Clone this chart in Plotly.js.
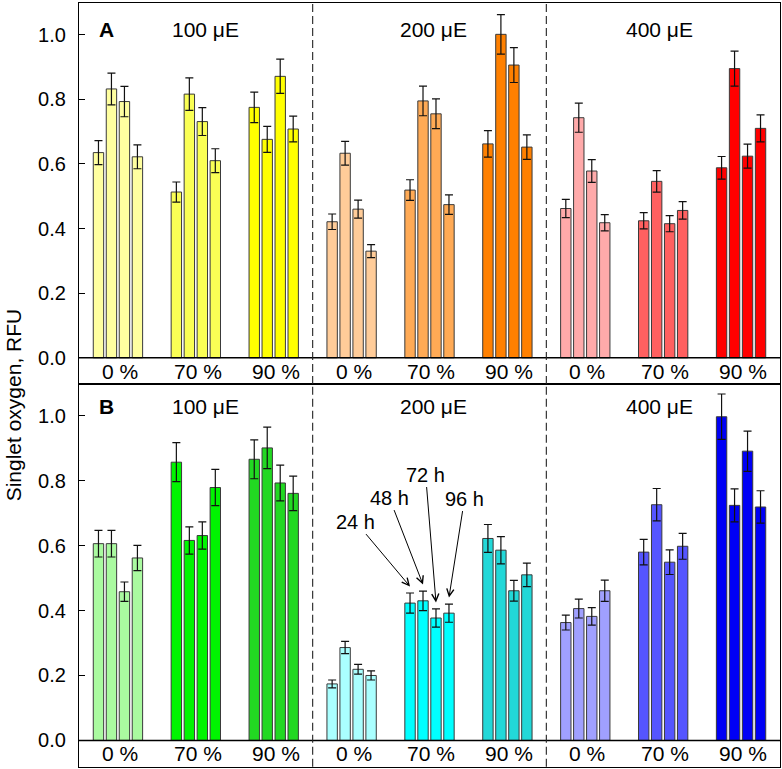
<!DOCTYPE html>
<html>
<head>
<meta charset="utf-8">
<script src="https://cdn.plot.ly/plotly-3.0.1.min.js"></script>
<style>
  html, body { margin: 0; padding: 0; background: #fff; }
  #chart { width: 782px; height: 769px; }
</style>
</head>
<body>
<div id="chart"></div>
<script>
// --- data ---
const humidityLabels = ['0 %', '70 %', '90 %'];
const lightLabels = ['100 \u03bcE', '200 \u03bcE', '400 \u03bcE'];
const timeLabels = ['24 h', '48 h', '72 h', '96 h'];

// panel A (4 bars per humidity group: 24, 48, 72, 96 h)
const a100 = [0.635, 0.832, 0.793, 0.622, 0.513, 0.816, 0.731, 0.610, 0.775, 0.676, 0.871, 0.708];
const a100Err = [0.037, 0.049, 0.047, 0.037, 0.031, 0.050, 0.043, 0.037, 0.047, 0.040, 0.053, 0.040];
const a200 = [0.421, 0.633, 0.460, 0.330, 0.519, 0.795, 0.755, 0.474, 0.662, 1.001, 0.906, 0.652];
const a200Err = [0.024, 0.037, 0.028, 0.020, 0.032, 0.046, 0.046, 0.030, 0.041, 0.061, 0.054, 0.038];
const a400 = [0.462, 0.743, 0.578, 0.418, 0.424, 0.546, 0.415, 0.456, 0.588, 0.895, 0.624, 0.710];
const a400Err = [0.028, 0.045, 0.035, 0.025, 0.025, 0.033, 0.025, 0.027, 0.035, 0.054, 0.037, 0.042];

// panel B
const b100 = [0.606, 0.606, 0.458, 0.562, 0.857, 0.616, 0.631, 0.779, 0.866, 0.901, 0.793, 0.761];
const b100Err = [0.041, 0.041, 0.030, 0.039, 0.060, 0.042, 0.042, 0.056, 0.060, 0.064, 0.055, 0.053];
const b200 = [0.174, 0.286, 0.219, 0.200, 0.423, 0.430, 0.377, 0.392, 0.622, 0.586, 0.461, 0.510];
const b200Err = [0.012, 0.019, 0.015, 0.014, 0.031, 0.030, 0.028, 0.028, 0.043, 0.042, 0.032, 0.036];
const b400 = [0.363, 0.406, 0.382, 0.461, 0.580, 0.726, 0.549, 0.598, 0.997, 0.724, 0.891, 0.719];
const b400Err = [0.023, 0.029, 0.027, 0.033, 0.039, 0.050, 0.038, 0.040, 0.070, 0.051, 0.062, 0.050];

// colours, one per humidity group (light -> humidity)
const colorsA = ['#FFFFA0', '#FAFF55', '#FFFF00', '#FFCC99', '#FFAA55', '#FF8000', '#FFAAAA', '#FF6060', '#FF0000'];
const colorsB = ['#AAFAA0', '#00F500', '#22D822', '#AAFFFF', '#00FFFF', '#22D8D8', '#A0A0FF', '#5555FF', '#0000F5'];

const FONT = '"Liberation Sans", Arial, sans-serif';
const Y_RANGE = [-0.081, 1.098];
const X_RANGE = [-1.5, 52.5];

// bar position: 6 slots per group (4 bars + 2 gap)
function barX(group, bar) { return group * 6 + bar; }

function buildTrace(series, errs, colors, xa, ya) {
    const x = [], y = [], e = [], c = [];
    series.forEach((vals, li) => {
        vals.forEach((v, i) => {
            const g = li * 3 + Math.floor(i / 4);
            x.push(barX(g, i % 4));
            y.push(v);
            e.push(errs[li][i]);
            c.push(colors[g]);
        });
    });
    return {
        type: 'bar', x: x, y: y, xaxis: xa, yaxis: ya, width: 0.8,
        marker: { color: c, line: { color: '#3a3a3a', width: 1 } },
        error_y: { type: 'data', array: e, visible: true, color: '#111', thickness: 1.2, width: 4 },
        showlegend: false, hoverinfo: 'y'
    };
}

const traces = [
    buildTrace([a100, a200, a400], [a100Err, a200Err, a400Err], colorsA, 'x', 'y'),
    buildTrace([b100, b200, b400], [b100Err, b200Err, b400Err], colorsB, 'x2', 'y2')
];

// --- annotations and shapes ---
const annotations = [];
const shapes = [];

function panelDecor(xa, ya, letter, titleY) {
    const lightX = [8.25, 25.8, 43.2];
    lightLabels.forEach((t, i) => {
        annotations.push({ xref: xa, yref: ya, x: lightX[i], y: titleY, text: t, showarrow: false,
            font: { family: FONT, size: 21, color: '#000' } });
    });
    annotations.push({ xref: xa, yref: ya, x: 0.62, y: titleY, text: '<b>' + letter + '</b>', showarrow: false,
        font: { family: FONT, size: 21, color: '#000' } });
    for (let g = 0; g < 9; g++) {
        annotations.push({ xref: xa, yref: ya, x: barX(g, 1.5) + 0.15, y: -0.041, text: humidityLabels[g % 3],
            showarrow: false, font: { family: FONT, size: 21, color: '#000' } });
    }
    // zero line closing the label strip
    shapes.push({ type: 'line', xref: xa, yref: ya, x0: X_RANGE[0], x1: X_RANGE[1], y0: 0, y1: 0,
        line: { color: '#000', width: 1.5 } });
    // dashed separators between light levels
    [16.5, 34.5].forEach(xs => {
        shapes.push({ type: 'line', xref: xa, yref: ya + ' domain', x0: xs, x1: xs, y0: 0, y1: 1,
            line: { color: '#222', width: 1.1, dash: '8px,4px' } });
    });
}
panelDecor('x', 'y', 'A', 1.016);
panelDecor('x2', 'y2', 'B', 1.028);

// time labels with arrows on panel B, 200 uE, 70 %
const labelPos = [[19.8, 0.674], [22.4, 0.748], [25.2, 0.819], [28.2, 0.745]];
timeLabels.forEach((t, i) => {
    annotations.push({
        xref: 'x2', yref: 'y2', axref: 'x2', ayref: 'y2',
        x: barX(4, i), y: b200[4 + i] + b200Err[4 + i] + 0.02,
        ax: labelPos[i][0], ay: labelPos[i][1],
        text: t, showarrow: true, arrowhead: 5, arrowsize: 1.4, arrowwidth: 1, arrowcolor: '#000',
        font: { family: FONT, size: 20, color: '#000' }
    });
});

// y title shared by both panels
annotations.push({ xref: 'paper', yref: 'paper', x: -0.094, y: 0.473, text: 'Singlet oxygen, RFU',
    textangle: -90, showarrow: false, xanchor: 'center', yanchor: 'middle',
    font: { family: FONT, size: 21, color: '#000' } });

function yAxis(domain) {
    return {
        domain: domain, range: Y_RANGE, tickvals: [0, 0.2, 0.4, 0.6, 0.8, 1.0],
        ticktext: ['0.0', '0.2', '0.4', '0.6', '0.8', '1.0'],
        ticks: 'inside', ticklen: 6, tickwidth: 1.2, tickcolor: '#000', ticklabelstandoff: 8,
        showline: true, mirror: true, linecolor: '#000', linewidth: 1.3,
        showgrid: false, zeroline: false,
        tickfont: { family: FONT, size: 20, color: '#000' }
    };
}
function xAxis(anchor) {
    return {
        anchor: anchor, range: X_RANGE, showticklabels: false, ticks: '',
        showline: true, mirror: true, linecolor: '#000', linewidth: 1.3,
        showgrid: false, zeroline: false
    };
}

const layout = {
    width: 782, height: 769,
    margin: { l: 79, r: 2, t: 0, b: 0 },
    paper_bgcolor: '#fff', plot_bgcolor: '#fff',
    font: { family: FONT, color: '#000' },
    barmode: 'overlay',
    xaxis: xAxis('y'), yaxis: yAxis([0.5007, 0.9961]),
    xaxis2: xAxis('y2'), yaxis2: yAxis([0.003, 0.5007]),
    annotations: annotations, shapes: shapes
};

Plotly.newPlot('chart', traces, layout, { displayModeBar: false });
</script>
</body>
</html>
